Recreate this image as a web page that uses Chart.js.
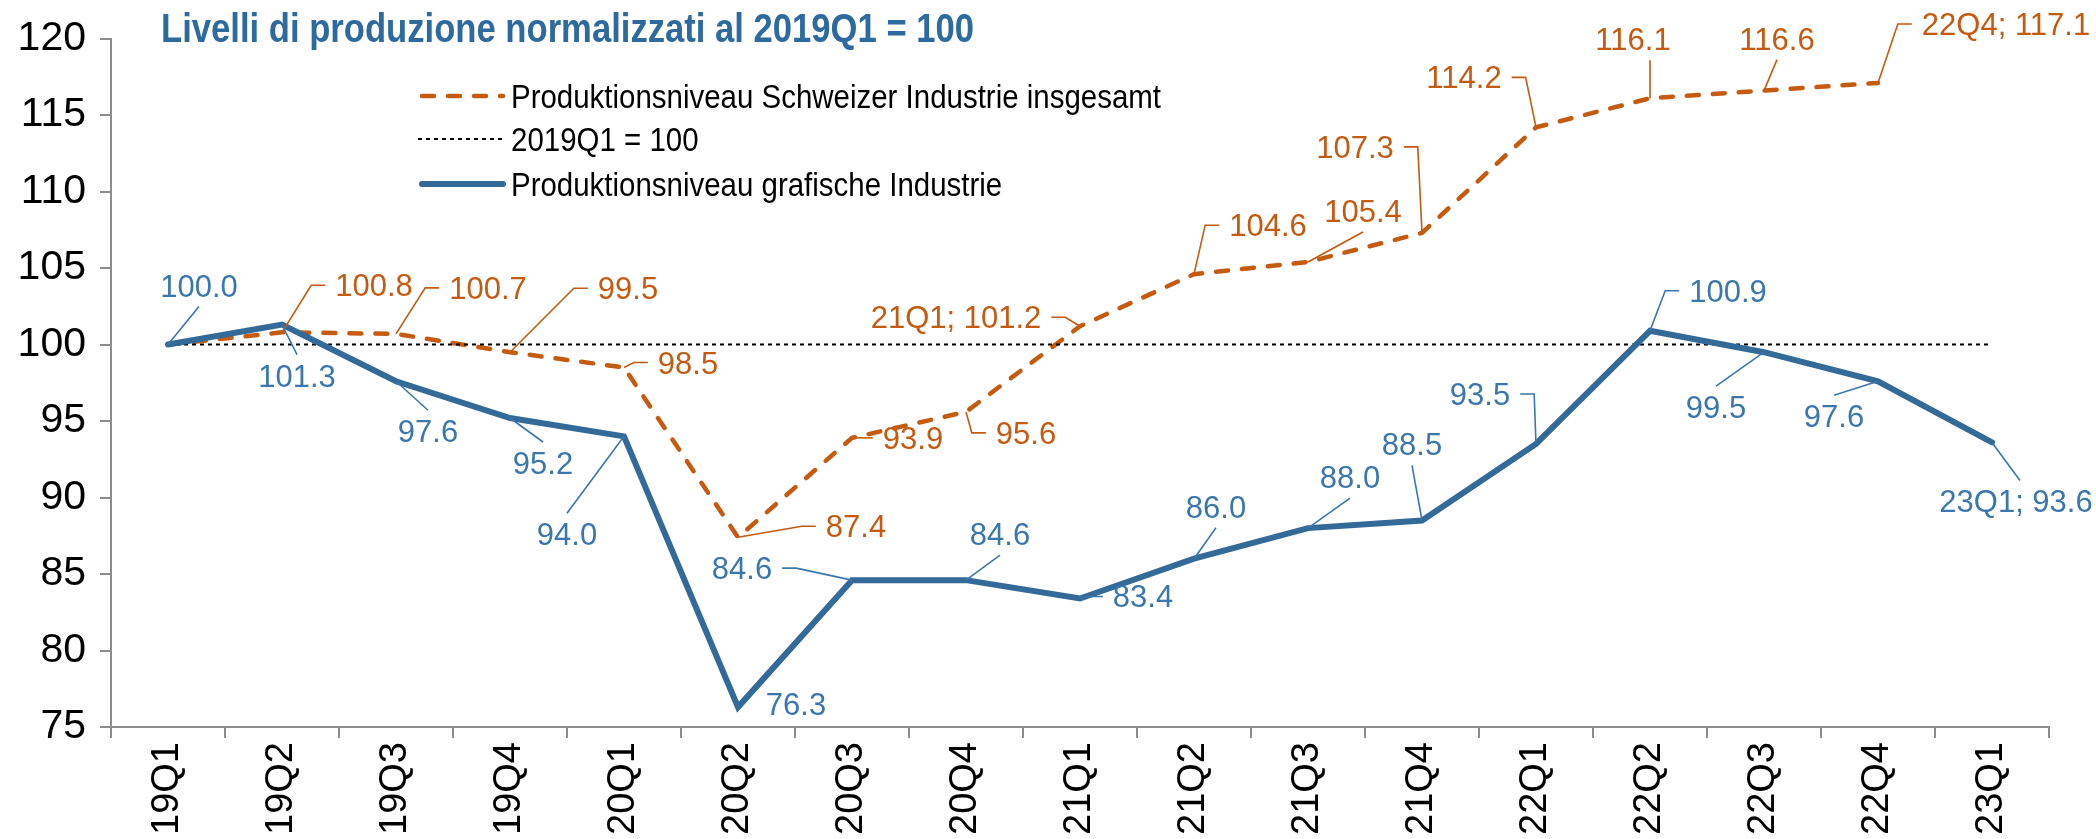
<!DOCTYPE html>
<html><head><meta charset="utf-8">
<script src="https://cdn.jsdelivr.net/npm/chart.js@4.4.1/dist/chart.umd.min.js"></script>
<style>html,body{margin:0;padding:0;background:#fff;overflow:hidden}#wrap{width:2096px;height:839px}</style>
</head><body><div id="wrap"><canvas id="c" width="2096" height="839"></canvas></div>
<script>
// ---- data ----
const categories = ['19Q1','19Q2','19Q3','19Q4','20Q1','20Q2','20Q3','20Q4','21Q1','21Q2','21Q3','21Q4','22Q1','22Q2','22Q3','22Q4','23Q1'];
const industryTotal = [100.0,100.8,100.7,99.5,98.5,87.4,93.9,95.6,101.2,104.6,105.4,107.3,114.2,116.1,116.6,117.1,null];
const baseline = [100,100,100,100,100,100,100,100,100,100,100,100,100,100,100,100,100];
const graphicIndustry = [100.0,101.3,97.6,95.2,94.0,76.3,84.6,84.6,83.4,86.0,88.0,88.5,93.5,100.9,99.5,97.6,93.6];
const yTickValues = [75,80,85,90,95,100,105,110,115,120];
const seriesNames = ['Produktionsniveau Schweizer Industrie insgesamt','2019Q1 = 100','Produktionsniveau grafische Industrie'];
const titleText = 'Livelli di produzione normalizzati al 2019Q1 = 100';

// ---- label layout (pixel offsets from point, leader anchor, show category, anchor x shift) ----
const orangeLabelLayout = [
  null,
  [92,-47,'L',false],[92,-46,'L',false],[118,-64,'L',false],[64,-5,'L',false],
  [118,-11,'L',false],[61,0,'L',false],[60,21,'L',false],[-124,-9,'R',true],
  [74,-49,'L',false],[55,-51,'B',false],[-67,-86,'R',false],[-72,-50,'R',false],
  [-17,-59,'B',false,17],[13,-52,'B',false],[128,-59,'L',true],null
];
const blueLabelLayout = [
  [31,-59,'B',false],[15,51,'T',false],[32,50,'T',false],[33,45,'T',false],
  [-57,98,'T',false],[58,-3,'',false],[-110,-12,'R',false],[34,-46,'B',false],
  [63,-2,'L',false],[22,-52,'B',false],[42,-51,'B',false],[-10,-76,'B',false],
  [-56,-50,'R',false],[78,-40,'L',false],[-48,55,'T',false],[-44,35,'T',false],
  [24,59,'T',true,4]
];

const ORANGE = '#C55A11', ORANGE_TXT = '#C55A11';
const BLUE = '#336A98', BLUE_TXT = '#3B76AC';
const AXIS = '#8C8C8C';
const FONT = '"Liberation Sans", Arial, sans-serif';

function drawLabels(ctx, chart, dsIndex, layout, color) {
  const meta = chart.getDatasetMeta(dsIndex);
  const data = chart.data.datasets[dsIndex].data;
  ctx.save();
  ctx.font = '31px ' + FONT;
  ctx.fillStyle = color; ctx.strokeStyle = color; ctx.lineWidth = 1.6;
  ctx.textAlign = 'center'; ctx.textBaseline = 'alphabetic';
  layout.forEach((L, i) => {
    if (!L || data[i] == null) return;
    const [dx, dy, anchor, withCat, ax] = L;
    const p = meta.data[i];
    const px = p.x, py = p.y;
    const txt = (withCat ? categories[i] + '; ' : '') + data[i].toFixed(1);
    const cx = px + dx, cy = py + dy;
    const w = ctx.measureText(txt).width, h = 22;
    ctx.fillText(txt, cx, cy + h / 2);
    const gap = 10, tail = 14, axx = cx + (ax || 0);
    let pts = null;
    if (anchor === 'L') { const ex = cx - w / 2 - gap; pts = [[px, py], [ex - tail, cy], [ex, cy]]; }
    else if (anchor === 'R') { const ex = cx + w / 2 + gap; pts = [[px, py], [ex + tail, cy], [ex, cy]]; }
    else if (anchor === 'B') { pts = [[px, py], [axx, cy + h / 2 + gap]]; }
    else if (anchor === 'T') { pts = [[px, py], [axx, cy - h / 2 - gap]]; }
    if (pts) {
      ctx.beginPath(); ctx.moveTo(pts[0][0], pts[0][1]);
      for (let k = 1; k < pts.length; k++) ctx.lineTo(pts[k][0], pts[k][1]);
      ctx.stroke();
    }
  });
  ctx.restore();
}

const overlay = {
  id: 'overlay',
  afterDatasetsDraw(chart) {
    const ctx = chart.ctx;
    // title
    ctx.save();
    ctx.font = 'bold 41px ' + FONT;
    ctx.fillStyle = '#2E6A9E'; ctx.textAlign = 'left'; ctx.textBaseline = 'alphabetic';
    const tw = ctx.measureText(titleText).width;
    ctx.translate(161, 42); ctx.scale(813 / tw, 1); ctx.fillText(titleText, 0, 0);
    ctx.restore();
    // legend
    ctx.save();
    const rows = [96, 139, 184];
    const ds = chart.data.datasets;
    ctx.font = '34px ' + FONT;
    const sx = 650 / ctx.measureText(ds[0].label).width;
    [0, 1, 2].forEach((di, r) => {
      const d = ds[di]; const y = rows[r];
      ctx.beginPath();
      ctx.strokeStyle = d.borderColor; ctx.lineWidth = d.borderWidth;
      ctx.setLineDash(d.borderDash || []); ctx.lineCap = d.borderCapStyle || 'butt';
      ctx.moveTo(di === 1 ? 418 : 422, y); ctx.lineTo(di === 1 ? 506 : 503, y); ctx.stroke();
      ctx.setLineDash([]);
      ctx.fillStyle = '#000'; ctx.textAlign = 'left'; ctx.textBaseline = 'alphabetic';
      ctx.save(); ctx.translate(511, y + 12); ctx.scale(sx, 1); ctx.fillText(d.label, 0, 0); ctx.restore();
    });
    ctx.restore();
    drawLabels(ctx, chart, 0, orangeLabelLayout, ORANGE_TXT);
    drawLabels(ctx, chart, 2, blueLabelLayout, BLUE_TXT);
  }
};

new Chart(document.getElementById('c'), {
  type: 'line',
  data: {
    labels: categories,
    datasets: [
      { label: seriesNames[0], data: industryTotal, borderColor: ORANGE, borderWidth: 4.5, borderDash: [12, 14], borderCapStyle: 'round', pointRadius: 0, tension: 0, order: 3 },
      { label: seriesNames[1], data: baseline, borderColor: '#000', borderWidth: 2, borderDash: [4, 4], pointRadius: 0, tension: 0, order: 2 },
      { label: seriesNames[2], data: graphicIndustry, borderColor: BLUE, borderWidth: 6, borderCapStyle: 'round', borderJoinStyle: 'miter', pointRadius: 0, tension: 0, order: 1 }
    ]
  },
  options: {
    responsive: false, animation: false, devicePixelRatio: 1,
    layout: { padding: { top: 30, right: 47, left: 0, bottom: 0 } },
    plugins: { legend: { display: false }, tooltip: { enabled: false }, title: { display: false } },
    scales: {
      x: {
        type: 'category', offset: true,
        grid: { offset: true, drawOnChartArea: false, drawTicks: true, tickLength: 11, color: AXIS, lineWidth: 2 },
        border: { color: AXIS, width: 2 },
        ticks: { minRotation: 90, maxRotation: 90, autoSkip: false, color: '#000', padding: 4, font: { family: FONT, size: 38 } },
        afterFit: s => { s.height = 112; }
      },
      y: {
        min: 75, max: 120,
        afterBuildTicks: s => { s.ticks = yTickValues.map(v => ({ value: v })); },
        grid: { drawOnChartArea: false, drawTicks: true, tickLength: 11, color: AXIS, lineWidth: 2 },
        border: { color: AXIS, width: 2 },
        ticks: { color: '#000', padding: 14, font: { family: FONT, size: 41 } },
        afterFit: s => { s.width = 111; }
      }
    }
  },
  plugins: [overlay]
});
</script></body></html>
